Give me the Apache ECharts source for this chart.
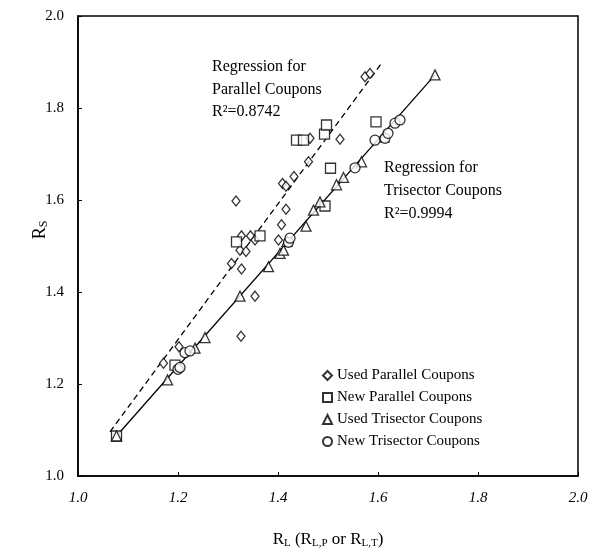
<!DOCTYPE html>
<html><head><meta charset="utf-8">
<script src="https://cdn.jsdelivr.net/npm/echarts@6/dist/echarts.min.js"></script>
<style>html,body{margin:0;padding:0;background:#fff}#c{width:594px;height:555px}</style>
</head><body><div id="c"></div>
<script>
// ---- data ----
const usedParallel = [[1.171,1.245],[1.202,1.281],[1.307,1.462],[1.327,1.450],[1.324,1.491],[1.336,1.488],[1.327,1.522],[1.345,1.522],[1.354,1.513],[1.316,1.598],[1.326,1.304],[1.354,1.391],[1.401,1.513],[1.407,1.546],[1.416,1.580],[1.409,1.636],[1.416,1.630],[1.432,1.651],[1.461,1.683],[1.464,1.734],[1.524,1.732],[1.574,1.868],[1.584,1.875]];
const newParallel = [[1.077,1.087],[1.194,1.241],[1.317,1.509],[1.364,1.522],[1.437,1.730],[1.451,1.730],[1.493,1.743],[1.497,1.763],[1.505,1.669],[1.494,1.587],[1.596,1.770]];
const usedTrisector = [[1.077,1.087],[1.179,1.209],[1.234,1.278],[1.254,1.301],[1.324,1.391],[1.381,1.455],[1.404,1.484],[1.411,1.491],[1.418,1.510],[1.456,1.543],[1.471,1.578],[1.484,1.596],[1.517,1.633],[1.531,1.649],[1.567,1.683],[1.612,1.737],[1.714,1.872]];
const newTrisector = [[1.200,1.232],[1.204,1.236],[1.214,1.268],[1.224,1.272],[1.421,1.508],[1.424,1.517],[1.554,1.670],[1.594,1.730],[1.614,1.734],[1.620,1.745],[1.634,1.767],[1.644,1.774]];
const parallelFitX = [1.064, 1.607];
const parallelFitY = [1.096, 1.897];
const trisectorFitX = [1.077, 1.714];
const trisectorFitY = [1.087, 1.872];
const seriesNames = ['Used Parallel Coupons','New Parallel Coupons','Used Trisector Coupons','New Trisector Coupons'];
const axisMin = 1.0, axisMax = 2.0, axisStep = 0.2;
const parallelNote = ['Regression for','Parallel Coupons','R\u00B2=0.8742'];
const trisectorNote = ['Regression for','Trisector Coupons','R\u00B2=0.9994'];

const FONT = '"Liberation Serif", "Times New Roman", serif';
const chart = echarts.init(document.getElementById('c'), null, {renderer:'canvas'});
const mk = {color:'#fff', borderColor:'#000', borderWidth:1.3};
function scatter(name, data, symbol, size){
  return {type:'scatter', name, data, symbol, symbolSize:size, itemStyle:mk, z:3, emphasis:{disabled:true}};
}
function fit(xs, ys, type){
  return {type:'line', data: xs.map((x,i)=>[x, ys[i]]), symbol:'none', silent:true, z:2,
    lineStyle:{color:'#000', width:1.3, type: type}};
}
chart.setOption({
  animation:false,
  backgroundColor:'#fff',
  grid:{left:78, right:16, top:16, bottom:79, show:true, borderColor:'#000', borderWidth:1.5},
  xAxis:{type:'value', min:axisMin, max:axisMax, interval:axisStep,
    axisLine:{lineStyle:{color:'#000', width:1.5}},
    axisTick:{inside:true, length:4, lineStyle:{color:'#000'}},
    splitLine:{show:false},
    axisLabel:{color:'#000', fontFamily:FONT, fontSize:15, fontStyle:'italic', margin:15, formatter:v=>v.toFixed(1)},
    name:'{m|R}{s|L}{m| (R}{s|L,P}{m| or R}{s|L,T}{m|)}', nameLocation:'middle', nameGap:54,
    nameTextStyle:{rich:{m:{fontFamily:FONT, fontSize:17, color:'#000'}, s:{fontFamily:FONT, fontSize:11, color:'#000', padding:[8,0,0,0]}}}
  },
  yAxis:{type:'value', min:axisMin, max:axisMax, interval:axisStep,
    axisLine:{lineStyle:{color:'#000', width:1.5}},
    axisTick:{inside:true, length:4, lineStyle:{color:'#000'}},
    splitLine:{show:false},
    axisLabel:{color:'#000', fontFamily:FONT, fontSize:15, margin:14, formatter:v=>v.toFixed(1)}
  },
  legend:{orient:'vertical', left:317, top:363, itemWidth:9, itemHeight:9, itemGap:7,
    data:seriesNames, textStyle:{fontFamily:FONT, fontSize:15, color:'#000'}},
  series:[
    fit(parallelFitX, parallelFitY, [6,4]),
    fit(trisectorFitX, trisectorFitY, 'solid'),
    scatter(seriesNames[0], usedParallel, 'diamond', [8,10]),
    scatter(seriesNames[1], newParallel, 'rect', 10),
    scatter(seriesNames[2], usedTrisector, 'triangle', 10),
    scatter(seriesNames[3], newTrisector, 'circle', 10)
  ],
  graphic:[
    {type:'text', left:212, top:56, style:{text:parallelNote.join('\n'), font:'16px '+FONT, fill:'#000', lineHeight:22.5}},
    {type:'text', left:384, top:156, style:{text:trisectorNote.join('\n'), font:'16px '+FONT, fill:'#000', lineHeight:23}},
    {type:'text', x:40, y:230, rotation:Math.PI/2, style:{text:'{m|R}{s|S}', align:'center', verticalAlign:'middle',
      rich:{m:{fontFamily:FONT, fontSize:18, fill:'#000'}, s:{fontFamily:FONT, fontSize:12, fill:'#000', padding:[8,0,0,0]}}}}
  ]
});
</script></body></html>
